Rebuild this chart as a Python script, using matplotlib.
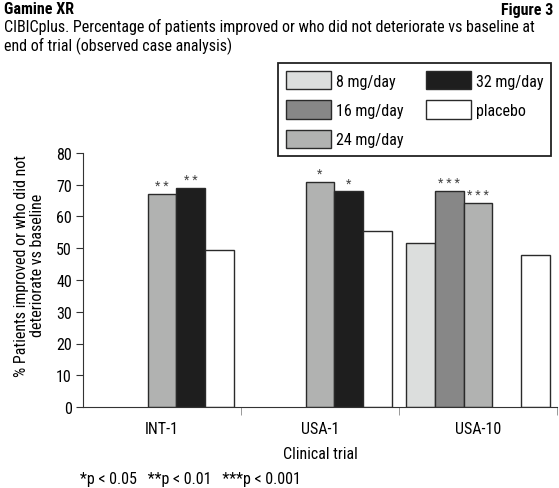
import numpy as np
import matplotlib.pyplot as plt
from matplotlib import font_manager
from matplotlib.patches import Patch

# condensed grotesque like the original, whichever is installed
have = {f.name for f in font_manager.fontManager.ttflist}
cands = ['Roboto Condensed', 'Archivo Narrow', 'PT Sans Narrow', 'Liberation Sans Narrow',
         'Sofia Sans Condensed', 'Ubuntu Condensed', 'Liberation Sans']
fam = [c for c in cands if c in have][0]
plt.rcParams['font.family'] = [fam, 'DejaVu Sans']

trials = ['INT-1', 'USA-1', 'USA-10']
doses = ['8 mg/day', '16 mg/day', '24 mg/day', '32 mg/day', 'placebo']
colors = ['#dcdedd', '#878787', '#b1b2b1', '#1e1e1e', '#ffffff']
# nan = dose not tested in that trial
values = {
    '8 mg/day':  [np.nan, np.nan, 51.5],
    '16 mg/day': [np.nan, np.nan, 68],
    '24 mg/day': [67, 71, 64.3],
    '32 mg/day': [69, 68, np.nan],
    'placebo':   [49.3, 55.5, 47.8],
}
stars = {
    '24 mg/day': ['**', '*', '***'],
    '32 mg/day': ['**', '*', ''],
    '16 mg/day': ['', '', '***'],
}

fs = 11.5
fig = plt.figure(figsize=(5.59, 4.89), dpi=100)
ax = fig.add_axes([83/559, 1-408/489, 474/559, 254/489])

x = np.arange(len(trials))
w = 0.182
for k, d in enumerate(doses):
    v = np.array(values[d], dtype=float)
    pos = x + (k-2)*w
    ax.bar(pos, v, w, color=colors[k], edgecolor='#2a2a2a', linewidth=1.0, zorder=2)
    if d in stars:
        for p, val, s in zip(pos, v, stars[d]):
            if s:
                ax.text(p, val+0.6, ' '.join(s), ha='center', va='bottom', fontsize=9, color='#444444')

ax.set_xlim(-0.5, 2.5)
ax.set_ylim(0, 80)
ax.set_yticks(np.arange(0, 81, 10))
ax.tick_params(axis='y', labelsize=fs, length=5, color='#333333', pad=3)
ax.set_xticks(x)
ax.set_xticklabels(trials, fontsize=fs)
ax.tick_params(axis='x', length=0, pad=10)
ax.set_xticks([0.5, 1.5, 2.5], minor=True)
ax.tick_params(axis='x', which='minor', length=6, color='#888888')
for s in ['top', 'right']:
    ax.spines[s].set_visible(False)
for s in ['left', 'bottom']:
    ax.spines[s].set_color('#333333')
ax.set_xlabel('Clinical trial', fontsize=fs, labelpad=7)
ax.set_ylabel('% Patients improved or who did not\ndeteriorate vs baseline', fontsize=fs, linespacing=1.1)
ax.yaxis.set_label_coords(-0.08, 0.56)

handles = [Patch(facecolor=c, edgecolor='#2a2a2a', label=d) for d, c in zip(doses, colors)]
leg = fig.legend(handles=handles, ncol=2, loc='upper left',
                 bbox_to_anchor=(270/559, 1-56/489), fontsize=fs,
                 handlelength=2.8, handleheight=1.4, labelspacing=0.68,
                 columnspacing=1.4, handletextpad=0.33, borderpad=0.5,
                 fancybox=False, framealpha=1)
leg.get_frame().set_edgecolor('#222222')
leg.get_frame().set_linewidth(1.3)

fig.text(4/559, 1-10/489, 'Gamine XR', fontsize=fs, fontweight='bold', va='center', ha='left')
fig.text(553/559, 1-10/489, 'Figure 3', fontsize=fs, fontweight='bold', va='center', ha='right')
fig.text(4/559, 1-37/489, 'CIBICplus. Percentage of patients improved or who did not deteriorate vs baseline at\nend of trial (observed case analysis)',
         fontsize=fs, va='center', ha='left', linespacing=1.15)
fig.text(80/559, 1-480/489, '*p < 0.05   **p < 0.01   ***p < 0.001', fontsize=fs, va='center', ha='left')

fig.savefig('out.png', dpi=100)
